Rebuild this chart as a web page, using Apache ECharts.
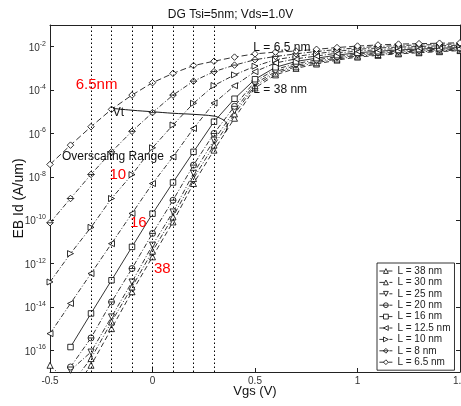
<!DOCTYPE html>
<html><head><meta charset="utf-8">
<script src="https://cdn.jsdelivr.net/npm/echarts@6/dist/echarts.min.js"></script>
<style>html,body{margin:0;padding:0;background:#fff}#c{width:461px;height:406px}</style>
</head><body><div id="c"></div>
<script>
// Gate voltage samples (V)
const vgs = [-0.5,-0.4,-0.3,-0.2,-0.1,0,0.1,0.2,0.3,0.4,0.5,0.6,0.7,0.8,0.9,1.0,1.1,1.2,1.3,1.4,1.5];
// log10 of EB Id (A/um) per gate length (null = not drawn)
const logId_L38  = [null,-18.0,-16.69,-15.0,-13.3,-11.69,-10.08,-8.31,-6.77,-5.3,-3.9,-3.3,-3.0,-2.8,-2.62,-2.48,-2.4,-2.33,-2.28,-2.23,-2.18];
const logId_L30  = [-16.69,-17.6,-16.38,-14.69,-13.08,-11.43,-9.85,-8.08,-6.54,-5.1,-3.8,-3.22,-2.93,-2.74,-2.57,-2.43,-2.36,-2.29,-2.24,-2.19,-2.15];
const logId_L25  = [null,-16.92,-16.08,-14.46,-12.85,-11.15,-9.62,-7.84,-6.31,-4.95,-3.7,-3.15,-2.86,-2.68,-2.52,-2.39,-2.31,-2.25,-2.2,-2.16,-2.12];
const logId_L20  = [null,-16.77,-15.43,-13.77,-12.23,-10.61,-9.08,-7.46,-6.0,-4.75,-3.6,-3.05,-2.78,-2.61,-2.46,-2.34,-2.27,-2.2,-2.16,-2.12,-2.08];
const logId_L16  = [null,-15.85,-14.3,-12.77,-11.23,-9.7,-8.26,-6.85,-5.46,-4.4,-3.5,-2.95,-2.68,-2.53,-2.39,-2.28,-2.21,-2.15,-2.11,-2.07,-2.04];
const logId_L125 = [-15.23,-13.84,-12.46,-11.08,-9.69,-8.31,-7.08,-5.77,-4.6,-3.8,-3.15,-2.75,-2.56,-2.43,-2.3,-2.2,-2.14,-2.08,-2.05,-2.02,-1.98];
const logId_L10  = [-12.85,-11.54,-10.33,-9.0,-7.9,-6.66,-5.61,-4.61,-3.79,-3.3,-2.9,-2.6,-2.45,-2.32,-2.21,-2.12,-2.06,-2.02,-1.99,-1.96,-1.93];
const logId_L8   = [-10.12,-9.0,-7.89,-6.85,-5.9,-5.04,-4.23,-3.59,-3.15,-2.85,-2.6,-2.45,-2.33,-2.22,-2.13,-2.05,-1.99,-1.95,-1.92,-1.9,-1.87];
const logId_L65  = [-7.43,-6.54,-5.69,-4.89,-4.23,-3.66,-3.23,-2.87,-2.67,-2.48,-2.33,-2.25,-2.2,-2.12,-2.04,-1.97,-1.92,-1.88,-1.86,-1.84,-1.82];
const seriesNames = ['L = 38 nm','L = 30 nm','L = 25 nm','L = 20 nm','L = 16 nm','L = 12.5 nm','L = 10 nm','L = 8 nm','L = 6.5 nm'];
// Vt locus line
const vtVgs   = [-0.2,-0.1,0.0,0.1,0.2,0.3,0.33,0.355,0.365,0.36,0.35];
const vtLogId = [-4.84,-4.93,-5.0,-5.07,-5.12,-5.2,-5.3,-5.45,-5.65,-5.85,-6.0];
// Axis ticks
const xTicks = [-0.5,0,0.5,1,1.5];
const yTickExponents = [-16,-14,-12,-10,-8,-6,-4,-2];
const dottedVgs = [-0.3,-0.2,-0.1,0,0.1,0.2,0.3];

const logSets = [logId_L38,logId_L30,logId_L25,logId_L20,logId_L16,logId_L125,logId_L10,logId_L8,logId_L65];
const styles = [
  {symbol:'triangle', rot:0, size:6, dash:[5,3]},
  {symbol:'triangle', rot:0, size:6, dash:[5,2,1,2]},
  {symbol:'triangle', rot:180, size:6, dash:[5,2,1,2]},
  {symbol:'path://M10,0A10,10,0,1,1,10,20A10,10,0,1,1,10,0ZM0,10L20,10', rot:0, size:6, dash:[5,2,1,2]},
  {symbol:'rect', rot:0, size:5.5, dash:'solid'},
  {symbol:'triangle', rot:90, size:6, dash:[5,2,1,2]},
  {symbol:'triangle', rot:-90, size:6, dash:[5,2,1,2]},
  {symbol:'path://M10,0L20,10L10,20L0,10ZM0,10L20,10', rot:0, size:6.5, dash:[5,2,1,2]},
  {symbol:'diamond', rot:0, size:6.5, dash:[6,3]}
];
const FONT = 'Liberation Sans, Arial, Helvetica, sans-serif';
const yTickVals = yTickExponents.map(e => Math.pow(10, e));

const series = seriesNames.map((name, i) => ({
  name, type:'line', xAxisIndex:0, yAxisIndex:0,
  data: vgs.map((x, j) => logSets[i][j] === null ? null : [x, Math.pow(10, logSets[i][j])]).filter(d => d),
  symbol: styles[i].symbol, symbolRotate: styles[i].rot, symbolSize: styles[i].size,
  showAllSymbol: true, clip: true,
  lineStyle: {color:'#000', width:0.8, type: styles[i].dash},
  itemStyle: {color:'#fff', borderColor:'#000', borderWidth:0.8},
  z: 3
}));
series.push({
  name:'Vt', type:'line', data: vtVgs.map((x,i)=>[x, Math.pow(10, vtLogId[i])]),
  symbol:'none', smooth:0.4, lineStyle:{color:'#000', width:0.9, type:'solid'}, z:2,
  markLine: {
    silent:true, symbol:['none','none'], label:{show:false},
    lineStyle:{color:'#000', width:1, type:[1.5,2.5]},
    data: dottedVgs.map(v => ({xAxis: v}))
  }
});

const chart = echarts.init(document.getElementById('c'), null, {renderer:'canvas'});
const yLabel = {
  customValues: yTickVals, color:'#333', margin:4,
  formatter: v => '{b|10}{s|' + Math.round(Math.log10(v)) + '}',
  rich: {b:{fontSize:10, fontFamily:FONT, color:'#333', verticalAlign:'bottom'},
         s:{fontSize:7, fontFamily:FONT, color:'#333', verticalAlign:'bottom', padding:[0,0,6,0]}}
};
const axisLineStyle = {show:true, onZero:false, lineStyle:{color:'#222', width:1}};
chart.setOption({
  animation:false, backgroundColor:'#fff',
  textStyle:{fontFamily:FONT},
  title:{text:'DG Tsi=5nm; Vds=1.0V', left:'center', top:4, textStyle:{fontSize:12, fontWeight:'normal', color:'#111', fontFamily:FONT}},
  grid:{left:50, right:1, top:25, bottom:34, outerBoundsMode:'none', show:false},
  legend:{
    data: seriesNames, orient:'vertical', left:377, top:263,
    backgroundColor:'#fff', borderColor:'#000', borderWidth:0.8, padding:[3,4,3,2],
    itemWidth:13, itemHeight:6, itemGap:1.4,
    itemStyle:{color:'#fff', borderColor:'#000', borderWidth:0.8},
    lineStyle:{color:'#000', width:0.8},
    textStyle:{fontSize:10, color:'#222', fontFamily:FONT, lineHeight:10}
  },
  xAxis:[
    {type:'value', min:-0.5, max:1.5, interval:0.5, position:'bottom',
     name:'Vgs (V)', nameLocation:'middle', nameGap:13, nameMoveOverlap:false,
     nameTextStyle:{fontSize:13, color:'#111', fontFamily:FONT},
     axisLine:axisLineStyle, axisTick:{inside:true, length:4, lineStyle:{color:'#222'}},
     axisLabel:{color:'#333', fontSize:10, margin:4, fontFamily:FONT}, splitLine:{show:false}},
    {type:'value', min:-0.5, max:1.5, interval:0.5, position:'top',
     axisLine:axisLineStyle, axisTick:{inside:true, length:4, lineStyle:{color:'#222'}},
     axisLabel:{show:false}, splitLine:{show:false}}
  ],
  yAxis:[
    {type:'log', logBase:10, min:1e-17, max:1e-1, position:'left',
     name:'EB Id (A/um)', nameLocation:'middle', nameGap:24, nameMoveOverlap:false,
     nameTextStyle:{fontSize:14, color:'#111', fontFamily:FONT},
     axisLine:axisLineStyle,
     axisTick:{show:true, inside:true, length:4, customValues: yTickVals, lineStyle:{color:'#222'}},
     axisLabel: yLabel, splitLine:{show:false}, minorTick:{show:false}},
    {type:'log', logBase:10, min:1e-17, max:1e-1, position:'right',
     axisLine:axisLineStyle,
     axisTick:{show:true, inside:true, length:4, customValues: yTickVals, lineStyle:{color:'#222'}},
     axisLabel:{show:false}, splitLine:{show:false}}
  ],
  series
});

// Text annotations anchored in data coordinates
const annotations = [
  {text:'6.5nm', vgs:-0.273, logId:-3.77, color:'#ff0000', size:15, align:'center'},
  {text:'10', vgs:-0.169, logId:-7.92, color:'#ff0000', size:15, align:'center'},
  {text:'16', vgs:-0.069, logId:-10.14, color:'#ff0000', size:15, align:'center'},
  {text:'38', vgs:0.048, logId:-12.26, color:'#ff0000', size:15, align:'center'},
  {text:'Vt', vgs:-0.166, logId:-5.06, color:'#111', size:12, align:'center'},
  {text:'Overscaling Range', vgs:-0.442, logId:-7.05, color:'#111', size:12, align:'left'},
  {text:'L = 6.5 nm', vgs:0.492, logId:-2.06, color:'#111', size:12, align:'left'},
  {text:'L = 38 nm', vgs:0.492, logId:-4.0, color:'#111', size:12, align:'left'}
];
chart.setOption({
  graphic: annotations.map(a => {
    const p = chart.convertToPixel({xAxisIndex:0, yAxisIndex:0}, [a.vgs, Math.pow(10, a.logId)]);
    return {type:'text', x:p[0], y:p[1], z:10, silent:true,
      style:{text:a.text, fill:a.color, fontSize:a.size, fontFamily:FONT, align:a.align, verticalAlign:'middle'}};
  })
});
</script>
</body></html>
